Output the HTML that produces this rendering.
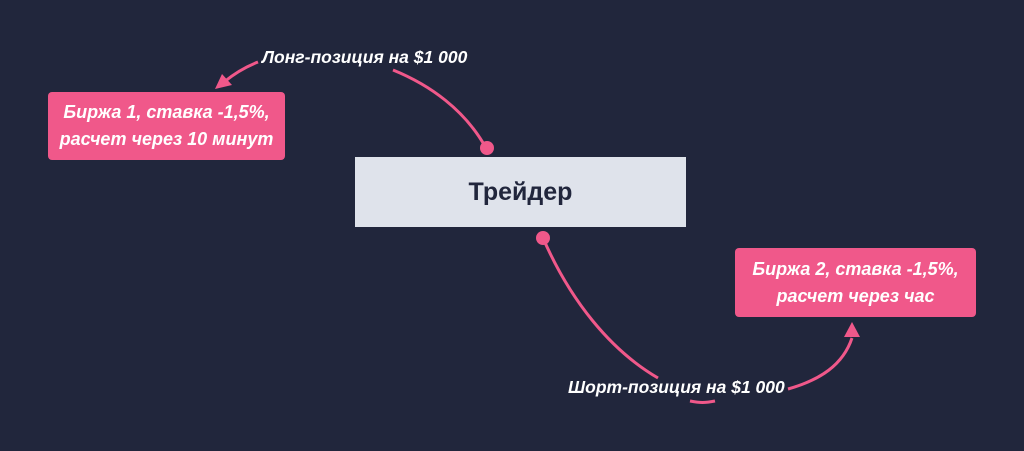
<!DOCTYPE html>
<html><head><meta charset="utf-8"><style>
html,body{margin:0;padding:0;width:1024px;height:451px;background:#21263c;overflow:hidden;font-family:"Liberation Sans","DejaVu Sans",sans-serif;}
.box{position:absolute;background:#f0588a;border-radius:4px;color:#fff;font-weight:bold;font-style:italic;font-size:18px;line-height:27px;text-align:center;display:flex;align-items:center;justify-content:center;}
.lbl{position:absolute;color:#fff;font-weight:bold;font-style:italic;font-size:17.5px;white-space:nowrap;}
</style></head><body>
<svg width="1024" height="451" style="position:absolute;left:0;top:0">
<g fill="none" stroke="#f0588a" stroke-width="3">
<path d="M486 148 C465 110 430 85 393 70"/>
<path d="M258 62 C245 67 235 73 224 82"/>
<path d="M543 238 C570 300 610 350 658 378"/>
<path d="M788 389 C820 380 843 365 852 338"/>
<path d="M715 401 C705 403 700 403 690 401"/>
</g>
<g fill="#f0588a">
<circle cx="487" cy="148" r="7"/>
<circle cx="543" cy="238" r="7"/>
<polygon points="215,89 222,74 232,85"/>
<polygon points="852,322 844,337 860,337"/>
</g>
</svg>
<div style="position:absolute;left:355px;top:157px;width:331px;height:70px;background:#dfe3eb;display:flex;align-items:center;justify-content:center;font-weight:bold;font-size:25px;color:#21263c;">Трейдер</div>
<div class="box" style="left:48px;top:92px;width:237px;height:68px;">Биржа 1, ставка -1,5%,<br>расчет через 10 минут</div>
<div class="box" style="left:735px;top:248px;width:241px;height:69px;">Биржа 2, ставка -1,5%,<br>расчет через час</div>
<div class="lbl" style="left:262px;top:47px;">Лонг-позиция на $1 000</div>
<div class="lbl" style="left:568px;top:377px;">Шорт-позиция на $1 000</div>
</body></html>
